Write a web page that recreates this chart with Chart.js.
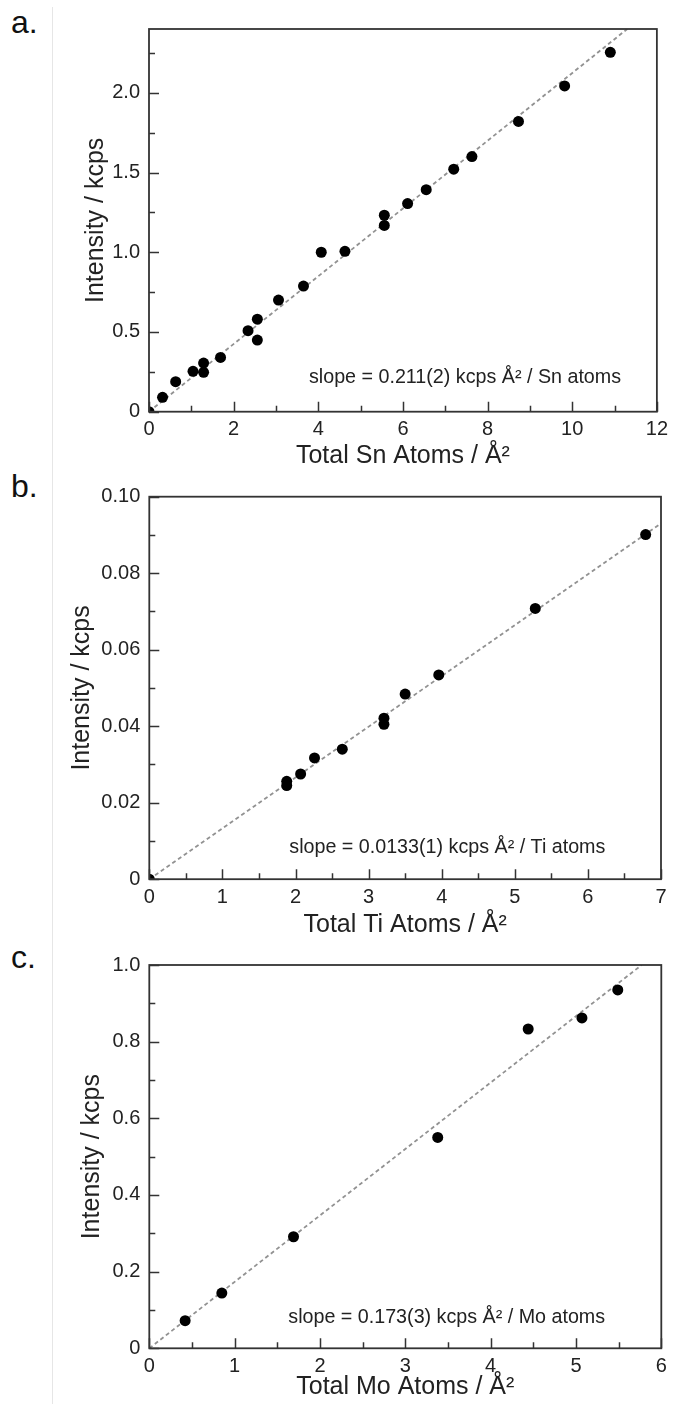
<!DOCTYPE html>
<html><head><meta charset="utf-8">
<script src="https://cdn.jsdelivr.net/npm/chart.js@4.4.1/dist/chart.umd.min.js"></script>
<style>
html,body{margin:0;padding:0;background:#fff;}
body{width:674px;height:1404px;position:relative;overflow:hidden;font-family:'Liberation Sans',Arial,sans-serif;}
canvas{position:absolute;left:0;}
.lbl{position:absolute;left:11px;font-size:32px;line-height:32px;color:#111;}
.vline{position:absolute;left:52px;top:7px;width:1px;height:1397px;background:#e6e6e6;}
</style></head><body>
<div class="vline"></div>
<div class="lbl" style="top:6px">a.</div>
<div class="lbl" style="top:470px">b.</div>
<div class="lbl" style="top:941px">c.</div>
<canvas id="ca" width="674" height="470" style="top:0px"></canvas>
<canvas id="cb" width="674" height="470" style="top:470px"></canvas>
<canvas id="cc" width="674" height="464" style="top:940px"></canvas>
<script>
// ---- data (a: Sn) ----
const snX = [0, 0.32, 0.63, 1.04, 1.29, 1.29, 1.69, 2.34, 2.56, 2.56, 3.06, 3.65, 4.07, 4.63, 5.56, 5.56, 6.11, 6.55, 7.20, 7.63, 8.73, 9.82, 10.90];
const snY = [0, 0.090, 0.188, 0.253, 0.305, 0.247, 0.340, 0.508, 0.580, 0.449, 0.700, 0.788, 1.000, 1.006, 1.232, 1.168, 1.305, 1.392, 1.521, 1.600, 1.820, 2.043, 2.254];
const snFitX = [0, 11.3];
const snFitY = [0, 2.4];
const snXTicks = [0, 2, 4, 6, 8, 10, 12];
const snXLabels = ['0', '2', '4', '6', '8', '10', '12'];
const snXMinor = [1, 3, 5, 7, 9, 11];
const snYTicks = [0, 0.5, 1.0, 1.5, 2.0];
const snYLabels = ['0', '0.5', '1.0', '1.5', '2.0'];
const snYMinor = [0.25, 0.75, 1.25, 1.75, 2.25];

// ---- data (b: Ti) ----
const tiX = [0, 1.88, 1.88, 2.07, 2.26, 2.64, 3.21, 3.21, 3.50, 3.96, 5.28, 6.79];
const tiY = [0, 0.0245, 0.0256, 0.0275, 0.0317, 0.0340, 0.0421, 0.0405, 0.0484, 0.0534, 0.0708, 0.0901];
const tiFitX = [0, 7];
const tiFitY = [0, 0.093];
const tiXTicks = [0, 1, 2, 3, 4, 5, 6, 7];
const tiXLabels = ['0', '1', '2', '3', '4', '5', '6', '7'];
const tiXMinor = [0.5, 1.5, 2.5, 3.5, 4.5, 5.5, 6.5];
const tiYTicks = [0, 0.02, 0.04, 0.06, 0.08, 0.10];
const tiYLabels = ['0', '0.02', '0.04', '0.06', '0.08', '0.10'];
const tiYMinor = [0.01, 0.03, 0.05, 0.07, 0.09];

// ---- data (c: Mo) ----
const moX = [0.42, 0.85, 1.69, 3.38, 4.44, 5.07, 5.49];
const moY = [0.072, 0.144, 0.291, 0.550, 0.833, 0.862, 0.935];
const moFitX = [0, 5.77];
const moFitY = [0, 1.0];
const moXTicks = [0, 1, 2, 3, 4, 5, 6];
const moXLabels = ['0', '1', '2', '3', '4', '5', '6'];
const moXMinor = [0.5, 1.5, 2.5, 3.5, 4.5, 5.5];
const moYTicks = [0, 0.2, 0.4, 0.6, 0.8, 1.0];
const moYLabels = ['0', '0.2', '0.4', '0.6', '0.8', '1.0'];
const moYMinor = [0.1, 0.3, 0.5, 0.7, 0.9];

const xTitles = ['Total Sn Atoms / Å²', 'Total Ti Atoms / Å²', 'Total Mo Atoms / Å²'];
const yTitle = 'Intensity / kcps';
const notes = ['slope = 0.211(2) kcps Å² / Sn atoms', 'slope = 0.0133(1) kcps Å² / Ti atoms', 'slope = 0.173(3) kcps Å² / Mo atoms'];

// ---- layout (page pixel positions) ----
const FONT = "'Liberation Sans', Arial, sans-serif";
const TITLE_SIZE = 25, TITLE_LH = 1.2, TICK_SIZE = 20, NOTE_SIZE = 19.7;
const panels = [
  {id:'ca', top:0,   height:470, left:149,   right:662,   plotTop:29,    plotBottom:411.7,  yTitleX:96, xTitleY:456,  noteDx:160, noteDy:29,
   xs:snX, ys:snY, fx:snFitX, fy:snFitY, xmax:12, ymax:2.4, xt:snXTicks, xl:snXLabels, xm:snXMinor, yt:snYTicks, yl:snYLabels, ym:snYMinor},
  {id:'cb', top:470, height:470, left:149.3, right:661,   plotTop:496.7, plotBottom:879.2,  yTitleX:82, xTitleY:925,  noteDx:140, noteDy:26,
   xs:tiX, ys:tiY, fx:tiFitX, fy:tiFitY, xmax:7, ymax:0.1, xt:tiXTicks, xl:tiXLabels, xm:tiXMinor, yt:tiYTicks, yl:tiYLabels, ym:tiYMinor},
  {id:'cc', top:940, height:464, left:149.3, right:661.3, plotTop:965,   plotBottom:1348.3, yTitleX:92, xTitleY:1387, noteDx:139, noteDy:25,
   xs:moX, ys:moY, fx:moFitX, fy:moFitY, xmax:6, ymax:1.0, xt:moXTicks, xl:moXLabels, xm:moXMinor, yt:moYTicks, yl:moYLabels, ym:moYMinor}
];

const AXIS = '#333333';
const decor = {
  id: 'decor',
  afterDatasetsDraw(chart, args, o) {
    const {ctx, chartArea: a, scales: {x, y}} = chart;
    ctx.save();
    ctx.strokeStyle = AXIS;
    ctx.lineWidth = 1.5;
    ctx.beginPath();
    const vt = (vals, len) => vals.forEach(v => { const px = Math.round(x.getPixelForValue(v)) + 0.5; ctx.moveTo(px, a.bottom); ctx.lineTo(px, a.bottom - len); });
    const ht = (vals, len) => vals.forEach(v => { const py = Math.round(y.getPixelForValue(v)) + 0.5; ctx.moveTo(a.left, py); ctx.lineTo(a.left + len, py); });
    vt(o.xt, 10); vt(o.xm, 6); ht(o.yt, 10); ht(o.ym, 6);
    ctx.stroke();
    ctx.lineWidth = 1.8;
    ctx.strokeRect(a.left, a.top, a.right - a.left, a.bottom - a.top);
    ctx.font = NOTE_SIZE + 'px ' + FONT;
    ctx.fillStyle = '#222';
    ctx.textBaseline = 'alphabetic';
    ctx.textAlign = 'left';
    ctx.fillText(o.note, a.left + o.noteDx, a.bottom - o.noteDy);
    ctx.restore();
  }
};

panels.forEach((p, i) => {
  const lh = TITLE_SIZE * TITLE_LH;
  const padLeft = p.yTitleX - lh / 2;
  const yWidth = p.left - padLeft;
  const xTitleBottom = p.xTitleY - p.top + lh / 2;
  const xHeight = xTitleBottom - (p.plotBottom - p.top);
  const padBottom = p.height - xTitleBottom;
  const pts = p.xs.map((v, k) => ({x: v, y: p.ys[k]}));
  const fit = p.fx.map((v, k) => ({x: v, y: p.fy[k]}));
  new Chart(document.getElementById(p.id), {
    type: 'scatter',
    data: {
      datasets: [
        {data: pts, backgroundColor: '#000', borderWidth: 0, pointRadius: 5.5, pointHoverRadius: 5.5, clip: 0},
        {data: fit, showLine: true, borderColor: '#929292', borderWidth: 1.8, borderDash: [4, 3], pointRadius: 0, pointHoverRadius: 0, fill: false}
      ]
    },
    options: {
      responsive: false,
      animation: false,
      devicePixelRatio: 1,
      events: [],
      layout: {padding: {top: p.plotTop - p.top, left: padLeft, right: 674 - p.right, bottom: padBottom}},
      plugins: {
        legend: {display: false},
        tooltip: {enabled: false},
        decor: {xt: p.xt, xm: p.xm, yt: p.yt, ym: p.ym, note: notes[i], noteDx: p.noteDx, noteDy: p.noteDy}
      },
      scales: {
        x: {
          type: 'linear', min: 0, max: p.xmax,
          grid: {display: false, drawTicks: false},
          border: {display: false},
          afterBuildTicks: s => { s.ticks = p.xt.map(v => ({value: v})); },
          afterFit: s => { s.height = xHeight; },
          ticks: {autoSkip: false, maxRotation: 0, padding: 6, color: '#222', font: {family: FONT, size: TICK_SIZE},
                  callback: (v, k) => p.xl[k]},
          title: {display: true, text: xTitles[i], color: '#222', padding: 0, font: {family: FONT, size: TITLE_SIZE, lineHeight: TITLE_LH}}
        },
        y: {
          type: 'linear', min: 0, max: p.ymax,
          grid: {display: false, drawTicks: false},
          border: {display: false},
          afterBuildTicks: s => { s.ticks = p.yt.map(v => ({value: v})); },
          afterFit: s => { s.width = yWidth; },
          ticks: {autoSkip: false, padding: 9, color: '#222', font: {family: FONT, size: TICK_SIZE},
                  callback: (v, k) => p.yl[k]},
          title: {display: true, text: yTitle, color: '#222', padding: 0, font: {family: FONT, size: TITLE_SIZE, lineHeight: TITLE_LH}}
        }
      }
    },
    plugins: [decor]
  });
});
</script>
</body></html>
